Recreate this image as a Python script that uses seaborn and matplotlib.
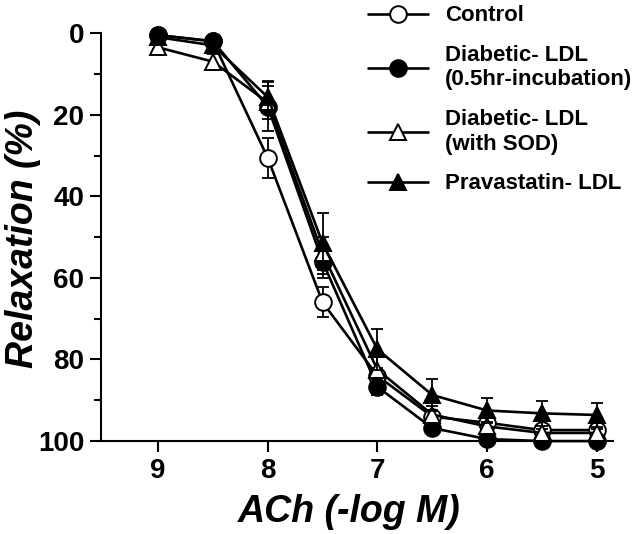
import matplotlib
matplotlib.use("Agg")
import matplotlib.pyplot as plt
import numpy as np
import pandas as pd
import seaborn as sns
from matplotlib.ticker import MultipleLocator

# ACh concentration (-log M)
ach = [9, 8.5, 8, 7.5, 7, 6.5, 6, 5.5, 5]

# relaxation (%) means and error bars
control = [0.5, 2, 30.6, 66, 84, 94, 95.5, 97.3, 97.3]
control_err = [0.5, 1, 5, 3.7, 2, 1.5, 1, 1, 1]
diab_ldl = [0.5, 2, 18, 56, 86.7, 96.8, 99.5, 100, 100]
diab_ldl_err = [0.5, 1, 6, 4, 2, 1, 0.5, 0.5, 0.5]
diab_sod = [3.5, 7, 17, 54, 82.5, 93.5, 96.4, 98, 98]
diab_sod_err = [0.5, 2, 4, 4, 3, 2, 1, 1, 1]
prava = [1, 3, 15.7, 51.5, 77.5, 88.7, 92.5, 93.2, 93.6]
prava_err = [0.5, 1, 4, 7.5, 5, 4, 3, 3, 3]

labels = ["Control", "Diabetic- LDL\n(0.5hr-incubation)",
          "Diabetic- LDL\n(with SOD)", "Pravastatin- LDL"]
markers = ["o", "o", "^", "^"]
faces = ["white", "black", "white", "black"]

sns.set_style("ticks")
plt.rcParams["font.family"] = ["Liberation Sans", "DejaVu Sans"]
plt.rcParams["font.weight"] = "bold"
for key in ["text.color", "axes.labelcolor", "xtick.color", "ytick.color",
            "axes.edgecolor"]:
    plt.rcParams[key] = "black"

fig = plt.figure(figsize=(6.4, 5.34), dpi=100)
ax = fig.add_axes([0.158, 0.174, 0.80, 0.764])

series = [(control, control_err), (diab_ldl, diab_ldl_err),
          (diab_sod, diab_sod_err), (prava, prava_err)]

for (vals, errs), lab, mk, fc in zip(series, labels, markers, faces):
    df = pd.DataFrame({"ach": ach, "relax": vals})
    ax.errorbar(ach, vals, yerr=errs, fmt="none", ecolor="black",
                elinewidth=1.3, capsize=4, capthick=1.3, clip_on=False)
    sns.lineplot(data=df, x="ach", y="relax", ax=ax, color="black",
                 linewidth=1.9, marker=mk, markersize=12,
                 markerfacecolor=fc, markeredgecolor="black",
                 markeredgewidth=1.4, label=lab, clip_on=False)

ax.set_xlim(9.52, 4.85)
ax.set_ylim(100, 0)
ax.set_xticks([9, 8, 7, 6, 5])
ax.set_yticks([0, 20, 40, 60, 80, 100])
ax.yaxis.set_minor_locator(MultipleLocator(10))
ax.tick_params(axis="both", which="major", direction="out", length=8,
               width=1.5, labelsize=20, pad=4)
ax.tick_params(axis="y", which="minor", direction="out", length=5, width=1.5)
for lbl in ax.get_xticklabels() + ax.get_yticklabels():
    lbl.set_fontweight("bold")

sns.despine(ax=ax)
ax.spines["left"].set_linewidth(1.5)
ax.spines["bottom"].set_linewidth(1.5)

ax.set_xlabel("ACh (-log M)", fontsize=27, fontweight="bold",
              fontstyle="italic")
ax.set_ylabel("Relaxation (%)", fontsize=27, fontweight="bold",
              fontstyle="italic")
ax.xaxis.set_label_coords(0.485, -0.13)
ax.yaxis.set_label_coords(-0.118, 0.495)

ax.legend(loc="upper left", bbox_to_anchor=(0.575, 0.99),
          bbox_transform=fig.transFigure, frameon=False,
          prop={"size": 16, "weight": "bold"}, handlelength=2.7,
          handletextpad=0.75, labelspacing=0.85, borderpad=0,
          borderaxespad=0)

fig.savefig("out.png", dpi=100)
